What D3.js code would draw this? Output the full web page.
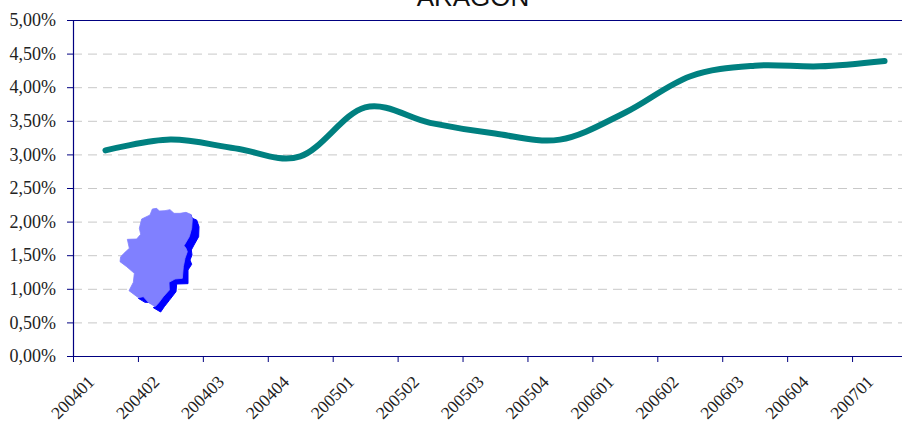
<!DOCTYPE html>
<html><head><meta charset="utf-8">
<script src="https://cdnjs.cloudflare.com/ajax/libs/d3/7.8.5/d3.min.js"></script>
<style>html,body{margin:0;padding:0;background:#fff}svg{display:block}</style>
</head><body><svg id="c" width="902" height="423"></svg>
<script>
const title = "ARAGON";
const categories = ["200401","200402","200403","200404","200501","200502","200503","200504","200601","200602","200603","200604","200701"];
const rates = [3.06,3.22,3.09,2.97,3.70,3.47,3.31,3.22,3.62,4.16,4.32,4.31,4.39];
const yTicks = [0,0.5,1,1.5,2,2.5,3,3.5,4,4.5,5];
const mapLight = [[157,42],[170,40],[178,48],[195,47],[210,44],[222,55],[240,55],[258,52],[272,58],[277,72],[275,100],[268,125],[252,152],[258,160],[262,170],[255,190],[250,215],[247,250],[225,252],[207,262],[208,285],[190,305],[175,325],[165,335],[145,322],[130,305],[115,308],[87,287],[100,262],[103,235],[80,215],[60,200],[62,185],[75,172],[88,160],[82,133],[110,132],[122,118],[118,100],[125,72],[150,60]];
const mapDark = [[272,58],[277,70],[290,75],[297,95],[296,125],[282,150],[274,165],[276,180],[270,195],[275,208],[264,225],[264,266],[230,267],[228,290],[208,316],[193,335],[182,351],[160,338],[170,330],[145,322],[135,322],[115,310],[130,300],[180,300],[250,150]];

const svg = d3.select("#c");
const x = d3.scaleBand().domain(categories).range([73,917]);
const y = d3.scaleLinear().domain([0,5]).range([356,20]);
const axisColor = "#000080";
const font = "'Liberation Serif','Times New Roman',serif";

svg.append("text").attr("x",473).attr("y",6).attr("text-anchor","middle")
  .attr("font-family","'Liberation Sans',Arial,sans-serif").attr("font-size",26).attr("fill","#111").text(title);

svg.append("g").selectAll("line").data(yTicks.filter(d=>d>0&&d<5)).join("line")
  .attr("x1",73).attr("x2",902).attr("y1",d=>y(d)+.5).attr("y2",d=>y(d)+.5)
  .attr("stroke","#c8c8c8").attr("stroke-width",1).attr("stroke-dasharray","9,6");

const yAxis = d3.axisLeft(y).tickValues(yTicks).tickSize(6).tickPadding(11)
  .tickFormat(d=>d.toFixed(2).replace(".",",")+"%");
const gy = svg.append("g").attr("transform","translate(73,0)").call(yAxis);
gy.select(".domain").remove();
gy.selectAll("line").attr("stroke",axisColor);
gy.selectAll("text").attr("font-family",font).attr("font-size",18).attr("fill","#222");

svg.append("line").attr("x1",73).attr("x2",902).attr("y1",20.5).attr("y2",20.5).attr("stroke",axisColor).attr("stroke-width",1);
svg.append("line").attr("x1",73.5).attr("x2",73.5).attr("y1",20).attr("y2",356).attr("stroke",axisColor).attr("stroke-width",1.2);
svg.append("line").attr("x1",67).attr("x2",902).attr("y1",356.5).attr("y2",356.5).attr("stroke",axisColor).attr("stroke-width",1.2);

svg.append("g").selectAll("line").data(categories).join("line")
  .attr("x1",d=>x(d)+.5).attr("x2",d=>x(d)+.5).attr("y1",356).attr("y2",362)
  .attr("stroke",axisColor);
svg.append("g").selectAll("text").data(categories).join("text")
  .attr("transform",d=>`translate(${x(d)+x.bandwidth()/2-10},383) rotate(-45)`)
  .attr("text-anchor","end").attr("font-family",font).attr("font-size",17.5).attr("fill","#222").text(d=>d);

const mapPt = p => [100+p[0]/3, 195+p[1]/3];
const mapLine = d3.line().curve(d3.curveLinearClosed);
svg.append("path").attr("d",mapLine(mapDark.map(mapPt))).attr("fill","#0000ff").attr("stroke","#0000ff").attr("stroke-linejoin","round");
svg.append("path").attr("d",mapLine(mapLight.map(mapPt))).attr("fill","#8080ff").attr("stroke","#8080ff").attr("stroke-width",.8).attr("stroke-linejoin","round");

const line = d3.line().x((d,i)=>x(categories[i])+x.bandwidth()/2).y(d=>y(d)).curve(d3.curveCardinal.tension(0));
svg.append("path").datum(rates).attr("d",line).attr("fill","none").attr("stroke","#008080")
  .attr("stroke-width",6).attr("stroke-linecap","round");
</script></body></html>
